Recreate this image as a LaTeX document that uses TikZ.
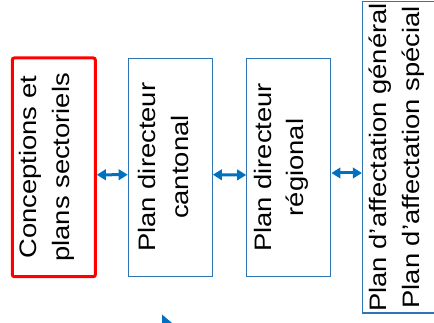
\documentclass[tikz,border=0pt]{standalone}
\usepackage{fontspec}
\setmainfont{Liberation Sans}
\usetikzlibrary{arrows.meta}
\definecolor{boxblue}{RGB}{46,117,182}
\definecolor{arrowblue}{RGB}{0,112,192}
\begin{document}
\begin{tikzpicture}[x=1pt,y=-1pt,
    redbox/.style={draw=red, line width=3pt, rounded corners=2pt, minimum width=83pt, minimum height=218.7pt},
    bluebox/.style={draw=boxblue, line width=1.2pt, minimum width=84pt, minimum height=218pt},
    boxtext/.style={rotate=90, xscale=1.15, align=center, inner sep=0pt, font={\fontsize{23.8}{32.6}\selectfont}},
    link/.style={arrowblue, line width=3pt, {Triangle[length=9pt,width=10.5pt]}-{Triangle[length=9pt,width=10.5pt]}}]
    \useasboundingbox (0,0) rectangle (434,323);
    \clip (0,0) rectangle (434,323);
    \node[redbox] (conc) at (53.8,167.3) {};
    \node[bluebox] (cant) at (170.3,167.2) {};
    \node[bluebox] (reg) at (288.8,167.5) {};
    \node[bluebox, minimum width=83pt, minimum height=311.3pt] (aff) at (404,157.4) {};
    \node[boxtext] (concT) at ([xshift=-7pt]conc.center) {Conceptions et\\plans sectoriels};
    \node[boxtext] (cantT) at ([xshift=-7pt]cant.center) {Plan directeur\\cantonal};
    \node[boxtext] (regT) at ([xshift=-7.5pt]reg.center) {Plan directeur\\régional};
    \node[boxtext] (affT) at ([xshift=-7pt]aff.center) {Plan d'affectation général\\Plan d'affectation spécial};
    \draw[link] ([yshift=-7.5pt]conc.east) -- ([yshift=-7.5pt]cant.west);
    \draw[link] ([yshift=-7.5pt]cant.east) -- ([yshift=-7.5pt]reg.west);
    \draw[link] ([yshift=-5.5pt]reg.east) -- (aff.west |- 0,173);
    % bout de fleche coupe en bas
    \fill[arrowblue] (162,314.5) -- (172,323) -- (162,323) -- cycle;
\end{tikzpicture}
\end{document}
